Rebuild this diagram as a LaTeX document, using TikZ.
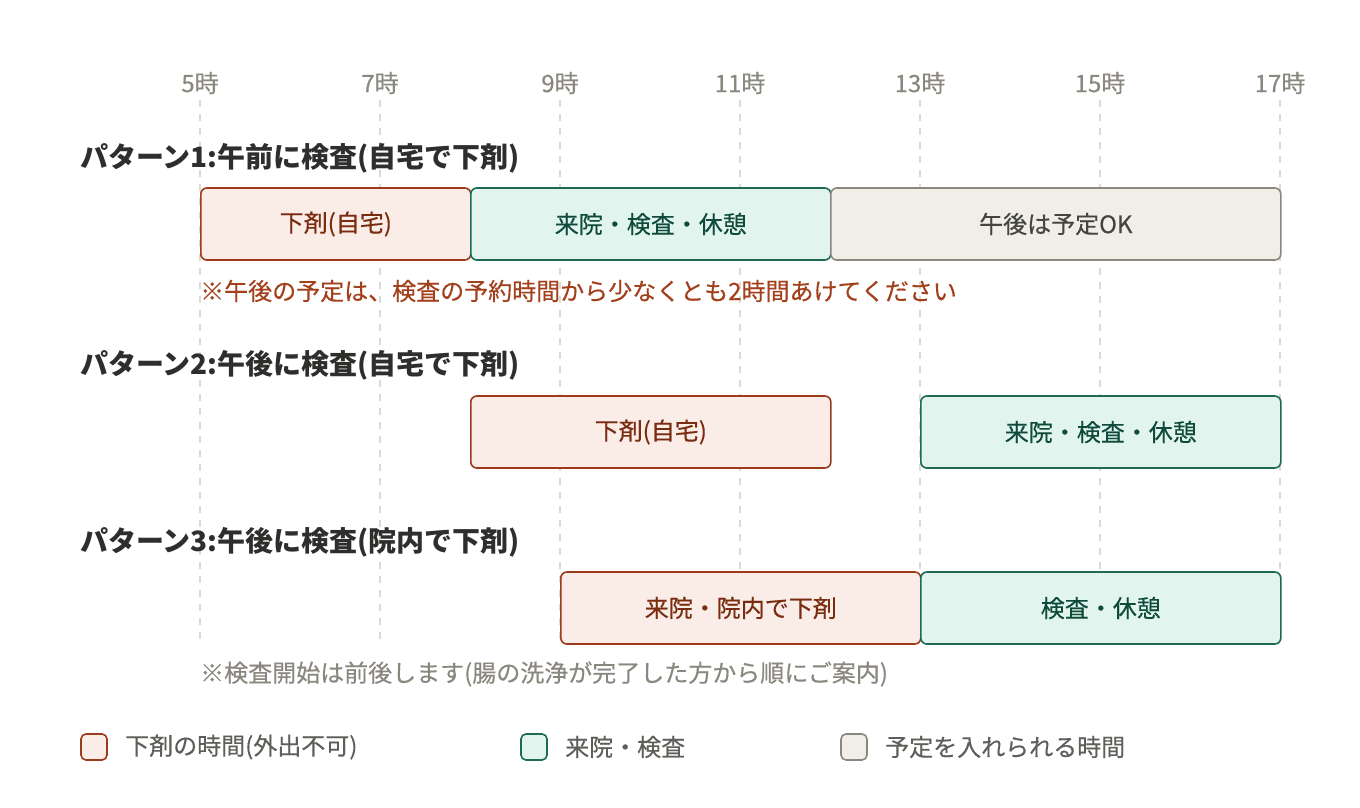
\documentclass[tikz,border=0pt]{standalone}
\usepackage{fontspec}
\setmainfont{Noto Sans CJK JP}
\newfontfamily\medfont{Noto Sans CJK JP}[FakeBold=0.35]
\usepackage{tikz}
\usetikzlibrary{positioning}
\definecolor{redline}{HTML}{9B3B1B}
\definecolor{redfill}{HTML}{FAECE7}
\definecolor{redtext}{HTML}{7A2C10}
\definecolor{notered}{HTML}{A3401C}
\definecolor{greenline}{HTML}{1D6B56}
\definecolor{greenfill}{HTML}{E1F5EE}
\definecolor{greentext}{HTML}{0F4A3A}
\definecolor{grayline}{HTML}{8A877F}
\definecolor{grayfill}{HTML}{F1EEE8}
\definecolor{graytext}{HTML}{444441}
\definecolor{gridgray}{HTML}{DDDAD4}
\definecolor{axisgray}{HTML}{8A877F}
\definecolor{titledark}{HTML}{2E2E2C}
\definecolor{legendtext}{HTML}{5F5E5A}

\begin{document}
\begin{tikzpicture}[
    x=1pt, y=1pt,
    every node/.style={font=\medfont\fontsize{24}{28}\selectfont, inner sep=0pt},
    hourlabel/.style={font=\medfont\fontsize{24}{28}\selectfont, text=axisgray},
    rowtitle/.style={font=\fontsize{28}{32}\selectfont\bfseries, text=titledark, anchor=west},
    notelabel/.style={anchor=west},
    barRed/.style={rectangle, rounded corners=6pt, line width=1.6pt, draw=redline, fill=redfill, text=redtext, minimum height=72pt, anchor=west},
    barGreen/.style={rectangle, rounded corners=6pt, line width=1.6pt, draw=greenline, fill=greenfill, text=greentext, minimum height=72pt, anchor=west},
    barGray/.style={rectangle, rounded corners=6pt, line width=1.6pt, draw=grayline, fill=grayfill, text=graytext, minimum height=72pt, anchor=west},
    legbox/.style={rectangle, rounded corners=5pt, line width=1.6pt, minimum size=26pt},
    legtext/.style={anchor=west, text=legendtext},
]
\useasboundingbox (0,0) rectangle (1360,-808);
% 5時 - 17時, 90pt per hour
\foreach \h/\x in {5/200,7/380,9/560,11/740,13/920,15/1100,17/1280} {
    \draw[gridgray, line width=1.5pt, dash pattern=on 7pt off 7pt] (\x,-100) -- (\x,-640);
    \node[hourlabel] (hour\h) at (\x,-83) {\h 時};
}
\node[rowtitle] (title1) at (80,-158) {パターン1:午前に検査(自宅で下剤)};
\node[barRed, minimum width=270pt] (p1a) at (200,-224) {下剤(自宅)};
\node[barGreen, minimum width=360pt] (p1b) at (470,-224) {来院・検査・休憩};
\node[barGray, minimum width=450pt] (p1c) at (830,-224) {午後は予定OK};
\node[notelabel, text=notered] (note1) at (200,-291) {※午後の予定は、検査の予約時間から少なくとも2時間あけてください};
\node[rowtitle] (title2) at (80,-365) {パターン2:午後に検査(自宅で下剤)};
\node[barRed, minimum width=360pt] (p2a) at (470,-432) {下剤(自宅)};
\node[barGreen, minimum width=360pt] (p2b) at (920,-432) {来院・検査・休憩};
\node[rowtitle] (title3) at (80,-542) {パターン3:午後に検査(院内で下剤)};
\node[barRed, minimum width=360pt] (p3a) at (560,-608) {来院・院内で下剤};
\node[barGreen, minimum width=360pt] (p3b) at (920,-608) {検査・休憩};
\node[notelabel, text=axisgray] (note3) at (200,-674) {※検査開始は前後します(腸の洗浄が完了した方から順にご案内)};
% legend
\node[legbox, draw=redline, fill=redfill] (legRed) at (94,-747) {};
\node[legtext] (legRedT) at (125,-747) {下剤の時間(外出不可)};
\node[legbox, draw=greenline, fill=greenfill] (legGreen) at (534,-747) {};
\node[legtext] (legGreenT) at (565,-747) {来院・検査};
\node[legbox, draw=grayline, fill=grayfill] (legGray) at (854,-747) {};
\node[legtext] (legGrayT) at (885,-747) {予定を入れられる時間};
\end{tikzpicture}
\end{document}
